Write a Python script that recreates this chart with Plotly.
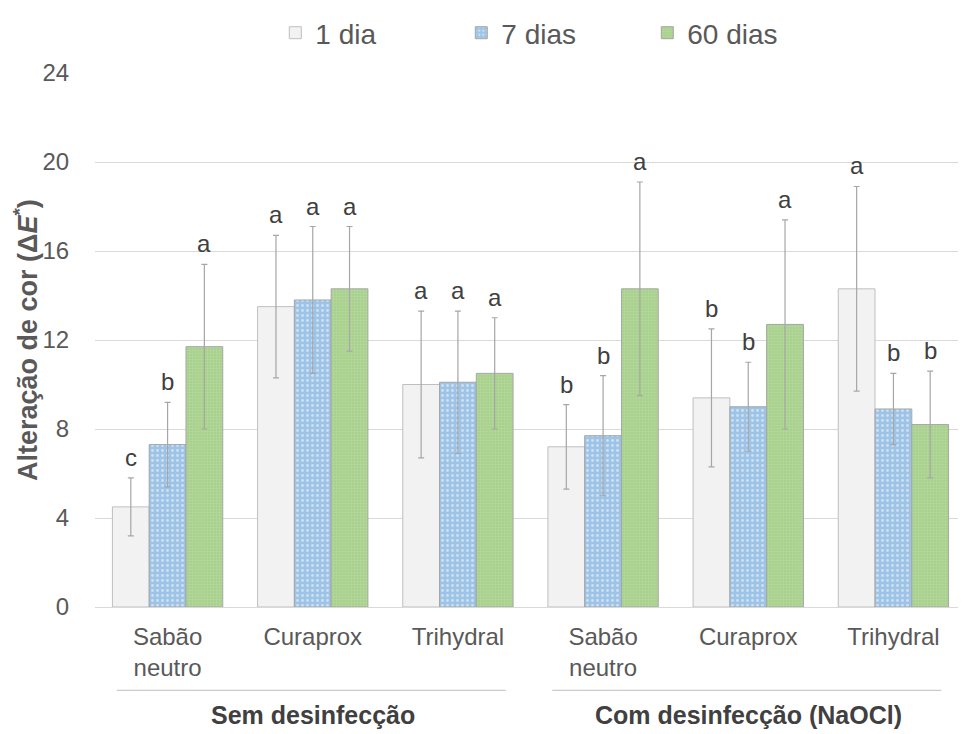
import plotly.graph_objects as go

categories = ["Sabão<br>neutro", "Curaprox", "Trihydral", "Sabão<br>neutro", "Curaprox", "Trihydral"]
groups = ["Sem desinfecção", "Com desinfecção (NaOCl)"]
series_names = ["1 dia", "7 dias", "60 dias"]

dia1 = [4.5, 13.5, 10.0, 7.2, 9.4, 14.3]
dia1_err = [1.3, 3.2, 3.3, 1.9, 3.1, 4.6]
dia7 = [7.3, 13.8, 10.1, 7.7, 9.0, 8.9]
dia7_err = [1.9, 3.3, 3.2, 2.7, 2.0, 1.6]
dia60 = [11.7, 14.3, 10.5, 14.3, 12.7, 8.2]
dia60_err = [3.7, 2.8, 2.5, 4.8, 4.7, 2.4]

letters1 = ["c", "a", "a", "b", "b", "a"]
letters7 = ["b", "a", "a", "b", "b", "b"]
letters60 = ["a", "a", "a", "a", "a", "b"]

yticks = [0, 4, 8, 12, 16, 20, 24]

x = list(range(len(categories)))
bargap = 0.24
bw = (1 - bargap) / 3

gray_txt = "#595959"
err_col = "#a6a6a6"

fig = go.Figure()
styles = [
    dict(color="#f2f2f2", line=dict(color="#bfbfbf", width=1)),
    dict(color="#9dc3e6", line=dict(color="#a6a6a6", width=1),
         pattern=dict(shape=".", fgcolor="#ffffff", bgcolor="#9dc3e6", size=5, solidity=0.25)),
    dict(color="#a9d18e", line=dict(color="#a6a6a6", width=1),
         pattern=dict(shape="+", fgcolor="#c5e0b4", bgcolor="#a9d18e", size=3, solidity=0.3)),
]
data = [(dia1, dia1_err, letters1), (dia7, dia7_err, letters7), (dia60, dia60_err, letters60)]

for k, (name, (vals, errs, lets), st) in enumerate(zip(series_names, data, styles)):
    fig.add_trace(go.Bar(
        x=x, y=vals, name=name, marker=st,
        error_y=dict(type="data", array=errs, visible=True, color=err_col, thickness=1.2, width=3),
    ))
    for i, (v, e, l) in enumerate(zip(vals, errs, lets)):
        fig.add_annotation(x=i + (k - 1) * bw, y=v + e, text=l, showarrow=False,
                           yanchor="bottom", yshift=5, font=dict(size=24, color="#404040"))

# group labels and lines
for gi, g in enumerate(groups):
    x0 = gi * 3 - 0.5
    fig.add_shape(type="line", xref="x", yref="paper", x0=x0 + 0.15, x1=x0 + 2.83,
                  y0=-0.156, y1=-0.156, line=dict(color="#bfbfbf", width=1))
    fig.add_annotation(x=x0 + 1.5, xref="x", y=-0.202, yref="paper", text="<b>%s</b>" % g,
                       showarrow=False, yanchor="middle", font=dict(size=25, color="#404040"))

fig.add_annotation(xref="paper", yref="paper", x=0, y=0.5, xshift=-69, textangle=-90,
                   xanchor="center", yanchor="middle",
                   text="<b>Alteração de cor (Δ<i>E</i><sup>*</sup>)</b>", showarrow=False,
                   font=dict(size=27, color=gray_txt))

fig.update_layout(
    width=958, height=726,
    barmode="group", bargap=bargap, bargroupgap=0,
    plot_bgcolor="white", paper_bgcolor="white",
    margin=dict(l=87, r=0, t=55, b=127),
    font=dict(family="Liberation Sans, Arial, sans-serif", color=gray_txt),
    legend=dict(orientation="h", x=0.207, xanchor="left", y=1.075, yanchor="middle",
                font=dict(size=28, color=gray_txt), entrywidth=141, entrywidthmode="pixels",
                itemwidth=30),
    xaxis=dict(tickmode="array", tickvals=x, ticktext=categories, range=[-0.5, 5.5],
               tickfont=dict(size=24, color=gray_txt), showgrid=False, showline=True,
               linecolor="#d9d9d9", ticks="outside", ticklen=8, tickcolor="rgba(0,0,0,0)"),
    yaxis=dict(range=[0, 24], tickvals=yticks, tickfont=dict(size=24, color=gray_txt),
               gridcolor="#d9d9d9", zeroline=False, showline=False, ticks="outside",
               ticklen=20, tickcolor="rgba(0,0,0,0)"),
)

fig.write_html("out.html")
